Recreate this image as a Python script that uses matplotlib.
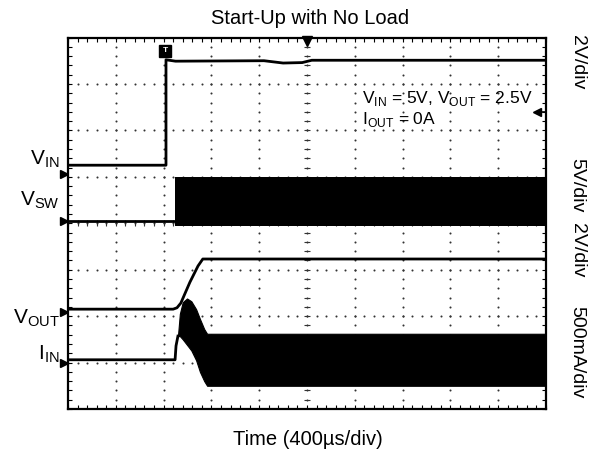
import numpy as np
import matplotlib
matplotlib.use("Agg")
import matplotlib.pyplot as plt
from matplotlib.transforms import blended_transform_factory

plt.rcParams["font.family"] = ["Liberation Sans", "DejaVu Sans"]
plt.rcParams["mathtext.fontset"] = "custom"
plt.rcParams["mathtext.rm"] = "Liberation Sans"

# ---- scope traces, in screen divisions (x: 0..10, y: 0..8) ----
vin_t = [0.0, 2.05, 2.05, 2.25, 4.1, 4.5, 4.9, 5.1, 10.0]
vin_v = [5.25, 5.25, 7.52, 7.49, 7.50, 7.45, 7.46, 7.51, 7.51]

vsw_t = [0.0, 2.24]
vsw_v = [4.05, 4.05]
vsw_band_t = [2.24, 10.0]
vsw_band_hi = [5.00, 5.00]
vsw_band_lo = [3.94, 3.94]

vout_t = [0.0, 2.20, 2.28, 2.36, 2.55, 2.72, 2.82, 10.0]
vout_v = [2.15, 2.15, 2.18, 2.28, 2.73, 3.08, 3.23, 3.23]

iin_t = [0.0, 2.24, 2.26, 2.30]
iin_v = [1.06, 1.06, 1.36, 1.57]
iin_band_t = [2.30, 2.34, 2.40, 2.49, 2.58, 2.68, 2.76, 2.85, 2.91, 10.0]
iin_band_hi = [1.57, 2.05, 2.30, 2.38, 2.32, 2.15, 1.94, 1.72, 1.62, 1.62]
iin_band_lo = [1.57, 1.57, 1.50, 1.38, 1.26, 1.05, 0.80, 0.60, 0.50, 0.50]

# channel ground markers on the left edge
ch_names = [r"V$_{\rm IN}$", r"V$_{\rm SW}$", r"V$_{\rm OUT}$", r"I$_{\rm IN}$"]
ch_marker_y = [5.06, 4.05, 2.09, 0.99]
ch_label_y = [5.40, 4.52, 1.98, 1.21]

scales = ["2V/div", "5V/div", "2V/div", "500mA/div"]
scale_y = [7.50, 4.85, 3.45, 1.25]

fig = plt.figure(figsize=(5.93, 4.60), dpi=100)
ax = fig.add_axes([68 / 593, 1 - 410 / 460, 478 / 593, 371.5 / 460])
ax.set_xlim(0, 10)
ax.set_ylim(0, 8)

# graticule: dotted grid, minor ticks on the border and centre cross
minor = np.arange(0, 10.01, 0.2)
minor_y = np.arange(0, 8.01, 0.2)
for gx in range(1, 10):
    ax.scatter(np.full_like(minor_y, gx), minor_y, s=2.2, color="#333333",
               lw=0, zorder=1)
for gy in range(1, 8):
    ax.scatter(minor, np.full_like(minor, gy), s=2.2, color="#333333",
               lw=0, zorder=1)
ax.plot(np.full_like(minor_y, 5), minor_y, ls="none", marker="_", ms=4,
        mew=0.8, color="#333333", zorder=1)
ax.plot(minor, np.full_like(minor, 4), ls="none", marker="|", ms=4,
        mew=0.8, color="#333333", zorder=1)

ax.set_xticks([])
ax.set_yticks([])
ax.set_xticks(minor, minor=True)
ax.set_yticks(minor_y, minor=True)
ax.tick_params(which="minor", direction="in", length=3, width=0.8,
               top=True, right=True, bottom=True, left=True,
               labelbottom=False, labelleft=False)
for sp in ax.spines.values():
    sp.set_linewidth(1.6)

# traces
lw = 2.0
ax.plot(vin_t, vin_v, color="black", lw=lw, zorder=3)
ax.plot(vsw_t, vsw_v, color="black", lw=lw, zorder=3)
ax.fill_between(vsw_band_t, vsw_band_lo, vsw_band_hi, color="black", lw=0,
                zorder=3)
ax.plot(vout_t, vout_v, color="black", lw=lw, zorder=3)
ax.plot(iin_t, iin_v, color="black", lw=lw, zorder=3)
ax.fill_between(iin_band_t, iin_band_lo, iin_band_hi, color="black", lw=0.8,
                edgecolor="black", zorder=3)

# scope markers
ax.plot([-0.08] * len(ch_marker_y), ch_marker_y, ls="none", marker=">",
        ms=6, color="black", clip_on=False, zorder=5)
ax.plot([5.0], [7.93], marker="v", ms=7, color="black", clip_on=False,
        zorder=5)
ax.plot([2.03], [7.72], marker="s", ms=8, color="black", clip_on=False,
        zorder=5)
ax.text(2.03, 7.74, "T", color="white", fontsize=6, ha="center",
        va="center", fontweight="bold", zorder=6)
ax.plot([9.81], [6.40], marker="<", ms=6, color="black", zorder=5)
ax.plot([9.81, 10], [6.40, 6.40], color="black", lw=1.2, zorder=5)

for name, ly in zip(ch_names, ch_label_y):
    ax.text(-0.17, ly, name, ha="right", va="center", fontsize=15,
            clip_on=False)

tr = blended_transform_factory(fig.transFigure, ax.transData)
for s, sy in zip(scales, scale_y):
    ax.text(577 / 593, sy, s, rotation=270, ha="center", va="center",
            fontsize=14, transform=tr)

ax.text(6.15, 6.70, r"V$_{\rm IN}$ = 5V, V$_{\rm OUT}$ = 2.5V",
        fontsize=12.5, ha="left", va="center", zorder=6)
ax.text(6.15, 6.26, r"I$_{\rm OUT}$ = 0A", fontsize=12.5, ha="left",
        va="center", zorder=6)

fig.text(310 / 593, 1 - 18 / 460, "Start-Up with No Load", ha="center",
         va="center", fontsize=14.5)
fig.text(308 / 593, 1 - 440 / 460, "Time (400µs/div)", ha="center",
         va="center", fontsize=14.5)

fig.savefig("out.png", dpi=100)
